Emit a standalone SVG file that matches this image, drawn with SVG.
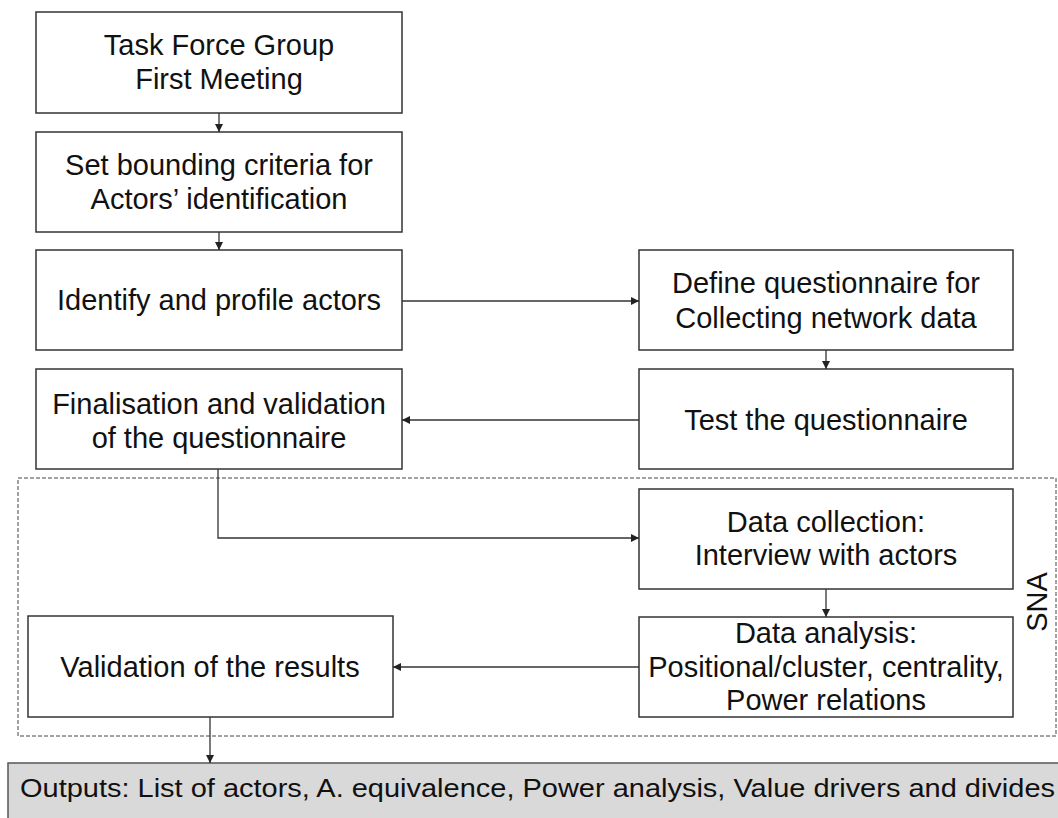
<svg xmlns="http://www.w3.org/2000/svg" width="1058" height="818" viewBox="0 0 1058 818">
<defs>
<style>
.box{fill:#fff;stroke:#333;stroke-width:1.5}
.out{fill:#d9d9d9;stroke:#555;stroke-width:1.5}
.t{font-family:"Liberation Sans",Arial,sans-serif;font-size:29px;fill:#111;text-anchor:middle}
.c{fill:none;stroke:#333;stroke-width:1.3}
.sna{fill:none;stroke:#444;stroke-width:1;stroke-dasharray:4 2}
</style>
<marker id="ah" viewBox="0 0 10 10" refX="10" refY="5" markerWidth="8" markerHeight="8" markerUnits="userSpaceOnUse" orient="auto">
<path d="M0,0 L10,5 L0,10 z" fill="#222"/>
</marker>
</defs>
<rect width="1058" height="818" fill="#fff"/>
<g id="sna-group">
<rect class="sna" x="18" y="478" width="1038" height="258"/>
<text class="t" transform="translate(1047,602) rotate(-90)">SNA</text>
</g>
<g id="n1"><rect class="box" x="36" y="12" width="366" height="101"/>
<text class="t" x="219" y="55">Task Force Group</text><text class="t" x="219" y="89">First Meeting</text></g>
<g id="n2"><rect class="box" x="36" y="132" width="366" height="100"/>
<text class="t" x="219" y="175">Set bounding criteria for</text><text class="t" x="219" y="209">Actors’ identification</text></g>
<g id="n3"><rect class="box" x="36" y="250" width="366" height="100"/>
<text class="t" x="219" y="310">Identify and profile actors</text></g>
<g id="n4"><rect class="box" x="36" y="369" width="366" height="100"/>
<text class="t" x="219" y="414">Finalisation and validation</text><text class="t" x="219" y="448">of the questionnaire</text></g>
<g id="n5"><rect class="box" x="639" y="250" width="374" height="100"/>
<text class="t" x="826" y="293">Define questionnaire for</text><text class="t" x="826" y="328">Collecting network data</text></g>
<g id="n6"><rect class="box" x="639" y="369" width="374" height="100"/>
<text class="t" x="826" y="430">Test the questionnaire</text></g>
<g id="n7"><rect class="box" x="639" y="489" width="374" height="100"/>
<text class="t" x="826" y="532">Data collection:</text><text class="t" x="826" y="565">Interview with actors</text></g>
<g id="n8"><rect class="box" x="639" y="617" width="374" height="100"/>
<text class="t" x="826" y="643">Data analysis:</text><text class="t" x="826" y="677">Positional/cluster, centrality,</text><text class="t" x="826" y="710">Power relations</text></g>
<g id="n9"><rect class="box" x="28" y="616" width="365" height="101"/>
<text class="t" x="210" y="677">Validation of the results</text></g>
<g id="n10"><rect class="out" x="8" y="763" width="1070" height="70"/>
<text x="20" y="797" font-family="Liberation Sans,Arial,sans-serif" font-size="26" fill="#111" textLength="1035" lengthAdjust="spacingAndGlyphs">Outputs: List of actors, A. equivalence, Power analysis, Value drivers and divides</text></g>
<g id="connectors">
<path class="c" d="M219,113 V132" marker-end="url(#ah)"/>
<path class="c" d="M219,232 V250" marker-end="url(#ah)"/>
<path class="c" d="M402,301 H639" marker-end="url(#ah)"/>
<path class="c" d="M826,350 V369" marker-end="url(#ah)"/>
<path class="c" d="M639,420 H402" marker-end="url(#ah)"/>
<path class="c" d="M218,469 V538 H639" marker-end="url(#ah)"/>
<path class="c" d="M826,589 V617" marker-end="url(#ah)"/>
<path class="c" d="M639,667 H393" marker-end="url(#ah)"/>
<path class="c" d="M210,717 V763" marker-end="url(#ah)"/>
</g>
</svg>
